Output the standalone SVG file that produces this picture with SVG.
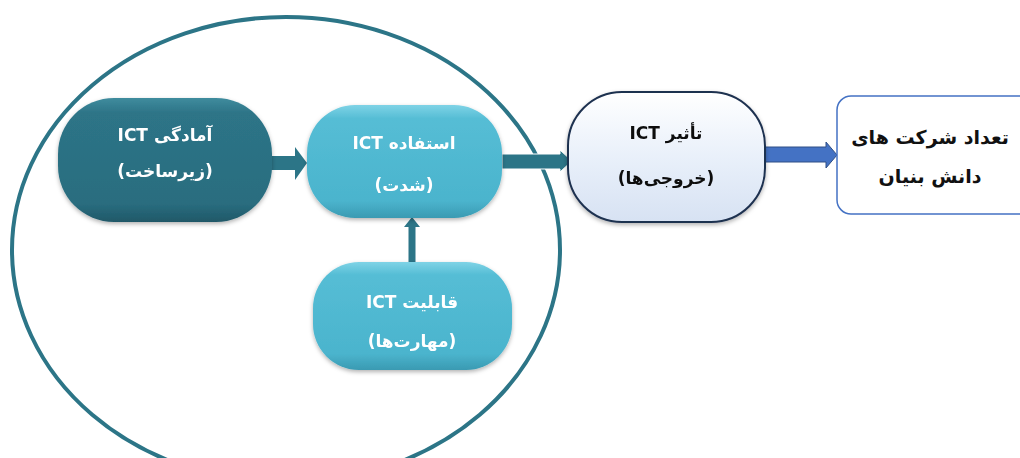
<svg xmlns="http://www.w3.org/2000/svg" width="1020" height="458" viewBox="0 0 1020 458">
<style>
.lbl{font-family:"DejaVu Sans","Noto Sans",sans-serif;font-weight:bold;font-size:17px;text-anchor:middle;direction:rtl}
.w{fill:#ffffff}
.k{fill:#111111}
.big{font-size:19px}
</style>
<defs>
<linearGradient id="gDark" x1="0" y1="0" x2="0" y2="1">
<stop offset="0" stop-color="#3f8c9e"/><stop offset="0.12" stop-color="#2d7487"/><stop offset="0.85" stop-color="#2a6d7f"/><stop offset="1" stop-color="#1f5868"/>
</linearGradient>
<linearGradient id="gLight" x1="0" y1="0" x2="0" y2="1">
<stop offset="0" stop-color="#7fd3e6"/><stop offset="0.12" stop-color="#55bdd5"/><stop offset="0.85" stop-color="#4bb4cd"/><stop offset="1" stop-color="#3a9ab2"/>
</linearGradient>
<linearGradient id="gPale" x1="0" y1="0" x2="0" y2="1">
<stop offset="0" stop-color="#ffffff"/><stop offset="0.5" stop-color="#e9f0fa"/><stop offset="1" stop-color="#d7e2f3"/>
</linearGradient>
<filter id="sh" x="-10%" y="-10%" width="120%" height="125%">
<feDropShadow dx="0" dy="2" stdDeviation="2" flood-color="#000" flood-opacity="0.3"/>
</filter>
</defs>
<rect width="1020" height="458" fill="#ffffff"/>
<ellipse cx="286" cy="250" rx="274" ry="233" fill="none" stroke="#2c7587" stroke-width="4"/>
<g id="connectors">
<polygon points="268,156 295,156 295,147 307,163 295,180 295,170 268,170" fill="#2c7587"/>
<polygon points="502,154 560,154 560,150 572,161 560,172 560,169 502,169" fill="#2c7587" stroke="#ffffff" stroke-width="1"/>
<polygon points="408.5,263 408.5,227 404,227 412,217 420,227 415.5,227 415.5,263" fill="#2c7587"/>
<polygon points="763,147 826,147 826,142 837,155 826,168 826,162 763,162" fill="#4472c4" stroke="#2f4f86" stroke-width="1"/>
</g>
<g id="n1" filter="url(#sh)">
<rect x="58" y="98" width="214" height="124" rx="56" fill="url(#gDark)"/>
<text class="lbl w" x="165" y="141">آمادگی ICT</text>
<text class="lbl w" x="165" y="177">(زیرساخت)</text>
</g>
<g id="n2" filter="url(#sh)">
<rect x="307" y="105" width="195" height="113" rx="48" fill="url(#gLight)"/>
<text class="lbl w" x="404" y="149">استفاده ICT</text>
<text class="lbl w" x="404" y="191">(شدت)</text>
</g>
<g id="n3" filter="url(#sh)">
<rect x="313" y="262" width="199" height="108" rx="46" fill="url(#gLight)"/>
<text class="lbl w" x="412" y="308">قابلیت ICT</text>
<text class="lbl w" x="412" y="347">(مهارت‌ها)</text>
</g>
<g id="n4" filter="url(#sh)">
<rect x="568" y="92" width="197" height="130" rx="54" fill="url(#gPale)" stroke="#1f3050" stroke-width="2"/>
<text class="lbl k" x="666" y="139">تأثیر ICT</text>
<text class="lbl k" x="666" y="184">(خروجی‌ها)</text>
</g>
<g id="n5">
<rect x="837" y="96" width="200" height="118" rx="14" fill="#ffffff" stroke="#4472c4" stroke-width="1.5"/>
<text class="lbl k big" x="930" y="144">تعداد شرکت های</text>
<text class="lbl k big" x="930" y="183">دانش بنیان</text>
</g>
</svg>
